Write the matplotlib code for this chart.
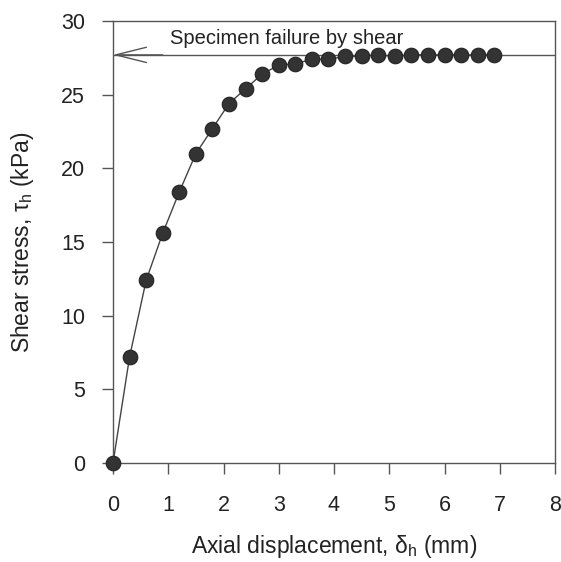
import matplotlib
matplotlib.use("Agg")
import matplotlib.pyplot as plt

plt.rcParams['font.family'] = ['Liberation Sans', 'DejaVu Sans']
plt.rcParams['mathtext.default'] = 'regular'

# Data
displacement = [0.0, 0.3, 0.6, 0.9, 1.2, 1.5, 1.8, 2.1, 2.4, 2.7, 3.0, 3.3,
                3.6, 3.9, 4.2, 4.5, 4.8, 5.1, 5.4, 5.7, 6.0, 6.3, 6.6, 6.9]
shear_stress = [0.0, 7.2, 12.4, 15.6, 18.4, 21.0, 22.7, 24.4, 25.4, 26.4, 27.0, 27.1,
                27.4, 27.4, 27.6, 27.6, 27.7, 27.6, 27.7, 27.7, 27.7, 27.7, 27.7, 27.7]
failure_stress = 27.7
failure_label = "Specimen failure by shear"
x_ticks = [0, 1, 2, 3, 4, 5, 6, 7, 8]
y_ticks = [0, 5, 10, 15, 20, 25, 30]

fig = plt.figure(figsize=(5.61, 5.62), dpi=100)
ax = fig.add_axes([113/561, 1 - 463/562, (555 - 113)/561, (463 - 21)/562])

ax.plot(displacement, shear_stress, '-', color='#444444', lw=1.0, zorder=2)
ax.plot(displacement, shear_stress, 'o', ms=10.5, mfc='#333333', mec='#222222',
        mew=0.8, zorder=3, clip_on=False)

ax.axhline(failure_stress, color='#555555', lw=1.0, zorder=1)
ax.annotate('', xy=(0, failure_stress), xytext=(0.9, failure_stress),
            arrowprops=dict(arrowstyle='->,head_length=2.2,head_width=0.55',
                            color='#555555', lw=1.0, mutation_scale=10,
                            shrinkA=0, shrinkB=0))
ax.text(1.03, failure_stress + 0.45, failure_label, fontsize=14.5,
        color='#222222', va='bottom', ha='left')

ax.set_xlim(0, 8)
ax.set_ylim(0, 30)
ax.set_xticks(x_ticks)
ax.set_yticks(y_ticks)
ax.tick_params(direction='out', length=8, width=1, color='#555555',
               labelsize=15.5, labelcolor='#222222')
ax.tick_params(axis='y', pad=12)
ax.tick_params(axis='x', pad=15)
for s in ax.spines.values():
    s.set_color('#555555')
    s.set_linewidth(1.0)

ax.set_xlabel('Axial displacement, δ$_h$ (mm)', fontsize=16.5, color='#222222', labelpad=12)
ax.set_ylabel('Shear stress, τ$_h$ (kPa)', fontsize=16.5, color='#222222', labelpad=18)

fig.savefig('out.png', dpi=100)
